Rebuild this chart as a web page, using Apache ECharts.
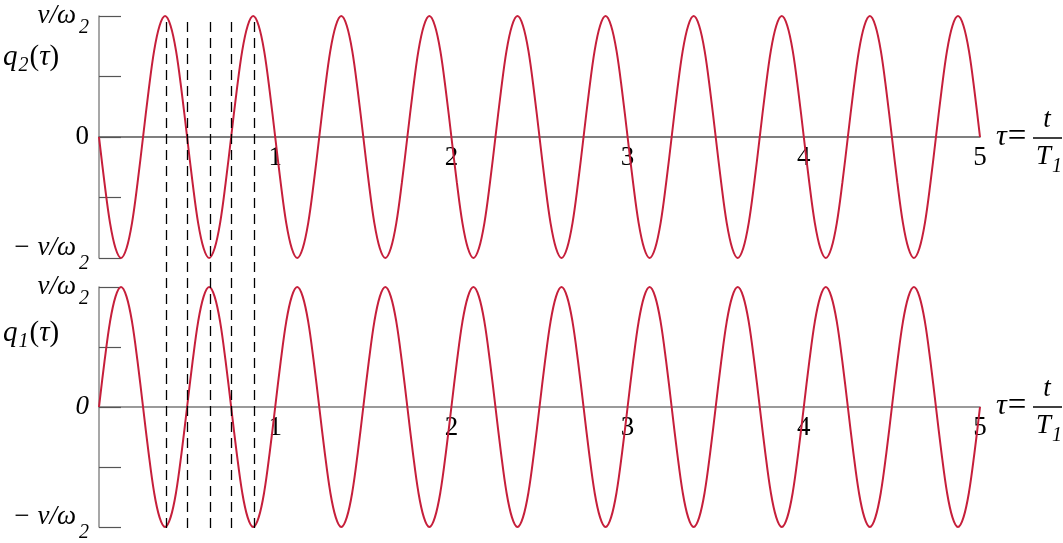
<!DOCTYPE html>
<html><head><meta charset="utf-8">
<script src="https://cdn.jsdelivr.net/npm/echarts@6/dist/echarts.min.js"></script>
<style>html,body{margin:0;padding:0;background:#fff}#c{width:1063px;height:543px}</style>
</head><body><div id="c"></div>
<script>
// tau = t / T1
const tau = [
  0,0.03125,0.0625,0.09375,0.125,0.15625,0.1875,0.21875,0.25,0.28125,0.3125,0.34375,0.375,0.40625,0.4375,0.46875,
  0.5,0.53125,0.5625,0.59375,0.625,0.65625,0.6875,0.71875,0.75,0.78125,0.8125,0.84375,0.875,0.90625,0.9375,0.96875,
  1,1.03125,1.0625,1.09375,1.125,1.15625,1.1875,1.21875,1.25,1.28125,1.3125,1.34375,1.375,1.40625,1.4375,1.46875,
  1.5,1.53125,1.5625,1.59375,1.625,1.65625,1.6875,1.71875,1.75,1.78125,1.8125,1.84375,1.875,1.90625,1.9375,1.96875,
  2,2.03125,2.0625,2.09375,2.125,2.15625,2.1875,2.21875,2.25,2.28125,2.3125,2.34375,2.375,2.40625,2.4375,2.46875,
  2.5,2.53125,2.5625,2.59375,2.625,2.65625,2.6875,2.71875,2.75,2.78125,2.8125,2.84375,2.875,2.90625,2.9375,2.96875,
  3,3.03125,3.0625,3.09375,3.125,3.15625,3.1875,3.21875,3.25,3.28125,3.3125,3.34375,3.375,3.40625,3.4375,3.46875,
  3.5,3.53125,3.5625,3.59375,3.625,3.65625,3.6875,3.71875,3.75,3.78125,3.8125,3.84375,3.875,3.90625,3.9375,3.96875,
  4,4.03125,4.0625,4.09375,4.125,4.15625,4.1875,4.21875,4.25,4.28125,4.3125,4.34375,4.375,4.40625,4.4375,4.46875,
  4.5,4.53125,4.5625,4.59375,4.625,4.65625,4.6875,4.71875,4.75,4.78125,4.8125,4.84375,4.875,4.90625,4.9375,4.96875,
  5
];
// q2(tau) in units of v/omega2 (upper panel)
const q2 = [
  0,-0.38,-0.71,-0.92,-1,-0.92,-0.71,-0.38,0,0.38,0.71,0.92,1,0.92,0.71,0.38,
  0,-0.38,-0.71,-0.92,-1,-0.92,-0.71,-0.38,0,0.38,0.71,0.92,1,0.92,0.71,0.38,
  0,-0.38,-0.71,-0.92,-1,-0.92,-0.71,-0.38,0,0.38,0.71,0.92,1,0.92,0.71,0.38,
  0,-0.38,-0.71,-0.92,-1,-0.92,-0.71,-0.38,0,0.38,0.71,0.92,1,0.92,0.71,0.38,
  0,-0.38,-0.71,-0.92,-1,-0.92,-0.71,-0.38,0,0.38,0.71,0.92,1,0.92,0.71,0.38,
  0,-0.38,-0.71,-0.92,-1,-0.92,-0.71,-0.38,0,0.38,0.71,0.92,1,0.92,0.71,0.38,
  0,-0.38,-0.71,-0.92,-1,-0.92,-0.71,-0.38,0,0.38,0.71,0.92,1,0.92,0.71,0.38,
  0,-0.38,-0.71,-0.92,-1,-0.92,-0.71,-0.38,0,0.38,0.71,0.92,1,0.92,0.71,0.38,
  0,-0.38,-0.71,-0.92,-1,-0.92,-0.71,-0.38,0,0.38,0.71,0.92,1,0.92,0.71,0.38,
  0,-0.38,-0.71,-0.92,-1,-0.92,-0.71,-0.38,0,0.38,0.71,0.92,1,0.92,0.71,0.38,
  0
];
// q1(tau) in units of v/omega2 (lower panel)
const q1 = [
  0,0.38,0.71,0.92,1,0.92,0.71,0.38,0,-0.38,-0.71,-0.92,-1,-0.92,-0.71,-0.38,
  0,0.38,0.71,0.92,1,0.92,0.71,0.38,0,-0.38,-0.71,-0.92,-1,-0.92,-0.71,-0.38,
  0,0.38,0.71,0.92,1,0.92,0.71,0.38,0,-0.38,-0.71,-0.92,-1,-0.92,-0.71,-0.38,
  0,0.38,0.71,0.92,1,0.92,0.71,0.38,0,-0.38,-0.71,-0.92,-1,-0.92,-0.71,-0.38,
  0,0.38,0.71,0.92,1,0.92,0.71,0.38,0,-0.38,-0.71,-0.92,-1,-0.92,-0.71,-0.38,
  0,0.38,0.71,0.92,1,0.92,0.71,0.38,0,-0.38,-0.71,-0.92,-1,-0.92,-0.71,-0.38,
  0,0.38,0.71,0.92,1,0.92,0.71,0.38,0,-0.38,-0.71,-0.92,-1,-0.92,-0.71,-0.38,
  0,0.38,0.71,0.92,1,0.92,0.71,0.38,0,-0.38,-0.71,-0.92,-1,-0.92,-0.71,-0.38,
  0,0.38,0.71,0.92,1,0.92,0.71,0.38,0,-0.38,-0.71,-0.92,-1,-0.92,-0.71,-0.38,
  0,0.38,0.71,0.92,1,0.92,0.71,0.38,0,-0.38,-0.71,-0.92,-1,-0.92,-0.71,-0.38,
  0
];
const xTickLabels = ['1','2','3','4','5'];
const dashTau = [0.375, 0.5, 0.625, 0.75, 0.875];

const F = "'Liberation Serif','Times New Roman',serif";
const RED = '#c61f3b';

function pairs(y){ return tau.map((t,i)=>[t,y[i]]); }

function richY(italicZero){
  return {
    m:{fontFamily:F,fontStyle:'italic',fontSize:27,color:'#000'},
    s:{fontFamily:F,fontStyle:'italic',fontSize:20,color:'#000',padding:[24,0,0,3]},
    mb:{fontFamily:F,fontStyle:'italic',fontSize:27,color:'#000',padding:[0,0,20,0]},
    sb:{fontFamily:F,fontStyle:'italic',fontSize:20,color:'#000',padding:[12,0,0,3]},
    z:{fontFamily:F,fontStyle: italicZero?'italic':'normal',fontSize:27,color:'#000'}
  };
}
function yAxisFor(idx, italicZero){
  return {
    type:'value', gridIndex:idx, min:-1, max:1, interval:0.5,
    axisLine:{show:true, lineStyle:{color:'#8a8a8a', width:1.5}},
    axisTick:{show:true, inside:true, length:22, lineStyle:{color:'#555', width:1.2}},
    splitLine:{show:false},
    axisLabel:{
      margin:10, fontFamily:F, fontSize:27, color:'#000',
      rich: richY(italicZero),
      formatter: v => v===1 ? '{m|v/ω}{s|2}' : (v===-1 ? '{mb|− v/ω}{sb|2}' : (v===0 ? '{z|0}' : ''))
    }
  };
}
function xAxisFor(idx, off, col){
  return {
    type:'value', gridIndex:idx, min:0, max:5, interval:1,
    position:'bottom', offset:off,
    axisLine:{show:true, onZero:false, lineStyle:{color:col, width:1.5}},
    axisTick:{show:false},
    splitLine:{show:false},
    axisLabel:{
      margin:7, fontFamily:F, fontSize:27, color:'#000',
      formatter: v => (v>=1 && v<=5) ? xTickLabels[v-1] : ''
    }
  };
}
function sideLabel(yc, sub){
  return [
    {type:'text', x:3, y:yc, z:10, style:{
      text:'{q|q}{s|'+sub+'}{p|(}{t|τ}{p|)}', textVerticalAlign:'middle', fill:'#000',
      rich:{
        q:{fontFamily:F,fontStyle:'italic',fontSize:29,color:'#000'},
        s:{fontFamily:F,fontStyle:'italic',fontSize:20,color:'#000',padding:[18,1,0,1]},
        p:{fontFamily:F,fontSize:29,color:'#000'},
        t:{fontFamily:F,fontStyle:'italic',fontSize:29,color:'#000'}
      }}}
  ];
}
function rightLabel(yb){
  return [
    {type:'text', x:996, y:yb-1, z:10, style:{
      text:'{i|τ}{r|=}', textVerticalAlign:'middle', fill:'#000',
      rich:{
        i:{fontFamily:F,fontStyle:'italic',fontSize:30,color:'#000'},
        r:{fontFamily:F,fontSize:33,color:'#000',padding:[0,0,0,1]}
      }}},
    {type:'line', z:10, shape:{x1:1033,y1:yb,x2:1062,y2:yb}, style:{stroke:'#000',lineWidth:1.5}},
    {type:'text', x:1047, y:yb-18, z:10, style:{
      text:'t', textAlign:'center', textVerticalAlign:'middle', fill:'#000',
      fontFamily:F, fontStyle:'italic', fontSize:27}},
    {type:'text', x:1049, y:yb+19, z:10, style:{
      text:'{a|T}{b|1}', textAlign:'center', textVerticalAlign:'middle', fill:'#000',
      rich:{
        a:{fontFamily:F,fontStyle:'italic',fontSize:27,color:'#000'},
        b:{fontFamily:F,fontStyle:'italic',fontSize:20,color:'#000',padding:[20,0,0,1]}
      }}}
  ];
}

const chart = echarts.init(document.getElementById('c'), null, {renderer:'canvas'});
chart.setOption({
  animation:false,
  backgroundColor:'#fff',
  grid:[
    {left:99, right:83, top:16, height:242},
    {left:99, right:83, top:287, height:241},
    {left:99, right:83, top:16, bottom:15}
  ],
  xAxis:[ xAxisFor(0,-121,'#555'), xAxisFor(1,-120,'#7a7a7a'),
    {type:'value', gridIndex:2, min:0, max:5, show:false} ],
  yAxis:[ yAxisFor(0,false), yAxisFor(1,true),
    {type:'value', gridIndex:2, min:0, max:1, show:false} ],
  series:[
    {type:'line', xAxisIndex:2, yAxisIndex:2, data:[], silent:true, z:1,
     markLine:{silent:true, symbol:['none','none'], label:{show:false},
       lineStyle:{type:[10,6], color:'#000', width:1.3},
       emphasis:{disabled:true},
       data: dashTau.map(v=>({xAxis:v}))}},
    {type:'line', xAxisIndex:0, yAxisIndex:0, data:pairs(q2), smooth:0.35,
     showSymbol:false, symbol:'none', lineStyle:{color:RED, width:2}, z:3},
    {type:'line', xAxisIndex:1, yAxisIndex:1, data:pairs(q1), smooth:0.35,
     showSymbol:false, symbol:'none', lineStyle:{color:RED, width:2}, z:3}
  ],
  graphic: [].concat(sideLabel(57,'2'), sideLabel(333,'1'), rightLabel(138), rightLabel(407))
});
</script></body></html>
